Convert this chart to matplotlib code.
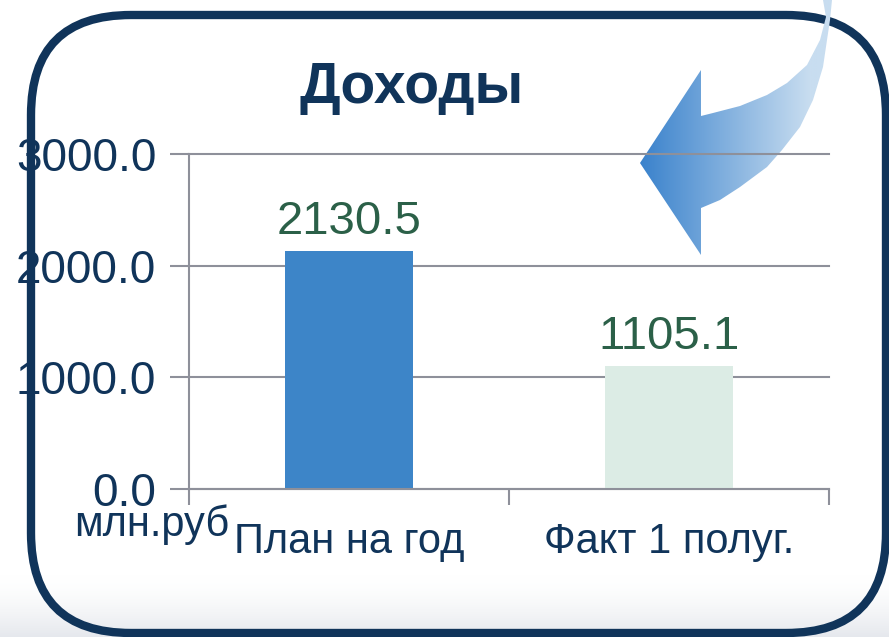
import numpy as np
import matplotlib
matplotlib.use("Agg")
import matplotlib.pyplot as plt
from matplotlib.patches import FancyBboxPatch, Polygon

# ---- data ----
categories = ["План на год", "Факт 1 полуг."]
values = [2130.5, 1105.1]
value_labels = ["2130.5", "1105.1"]
bar_colors = ["#3d85c8", "#dcece5"]
yticks = [0, 1000, 2000, 3000]
ytick_labels = ["0.0", "1000.0", "2000.0", "3000.0"]
title = "Доходы"
unit = "млн.руб"

NAVY = "#10345a"
GRID = "#8e909a"
VALC = "#2b6048"

plt.rcParams['font.family'] = ['Liberation Sans', 'DejaVu Sans']

W, H = 889, 637
fig = plt.figure(figsize=(W / 100, H / 100), dpi=100)
fig.patch.set_facecolor("white")

# ---- background decoration axes (pixel coords) ----
bg = fig.add_axes([0, 0, 1, 1], zorder=0)
bg.set_xlim(0, W)
bg.set_ylim(H, 0)
bg.axis("off")

# subtle grey gradient at the bottom
grad = np.linspace(0, 1, 100)[:, None] ** 1.6
col_top = np.array([1.0, 1.0, 1.0])
col_bot = np.array([0.90, 0.91, 0.93])
img = col_top[None, None, :] * (1 - grad[..., None]) + col_bot[None, None, :] * grad[..., None]
bg.imshow(img, extent=[0, W, H, 575], aspect="auto", zorder=0)

# frame
bg.add_patch(FancyBboxPatch((31, 15), 886 - 31, 633 - 15,
                            boxstyle="round,pad=0,rounding_size=100",
                            facecolor="none", edgecolor=NAVY, linewidth=6, zorder=1))

# curved gradient arrow
arrow_pts = [
    (640, 163), (701, 70), (701, 116),
    (713, 113), (740, 106), (767, 95), (787, 83), (807, 65), (820, 40), (826, 17), (823, 0),
    (832, 0), (830, 20), (827, 40), (823, 67), (813, 100), (800, 127), (782, 150),
    (767, 167), (740, 187), (720, 200), (701, 208),
    (701, 255),
]
poly = Polygon(arrow_pts, closed=True, facecolor="none", edgecolor="none", zorder=2)
bg.add_patch(poly)
gx = np.clip((np.linspace(640, 835, 200) - 640) / (810 - 640), 0, 1)
c0 = np.array([0x3a, 0x82, 0xcc]) / 255
c1 = np.array([0xc8, 0xdd, 0xf0]) / 255
gimg = (c0[None, :] * (1 - gx[:, None]) + c1[None, :] * gx[:, None])[None, :, :]
gi = bg.imshow(gimg, extent=[640, 835, 256, -1], aspect="auto", zorder=2)
gi.set_clip_path(poly)

# ---- chart axes ----
ax = fig.add_axes([189 / W, 148 / H, 640 / W, 335 / H], zorder=1)
ax.patch.set_alpha(0)
x = np.arange(len(categories))
bars = ax.bar(x, values, width=0.4, color=bar_colors, zorder=2)
for xi, v, lab in zip(x, values, value_labels):
    ax.annotate(lab, (xi, v), xytext=(0, 5), textcoords="offset points",
                ha="center", va="bottom", fontsize=34, color=VALC)

ax.set_xlim(-0.5, 1.5)
ax.set_ylim(0, 3000)
ax.set_yticks(yticks)
ax.set_yticklabels(ytick_labels)
ax.set_xticks(x)
ax.set_xticklabels(categories)
ax.set_xticks([-0.5, 0.5, 1.5], minor=True)

ax.tick_params(axis="y", length=13.5, width=1.5, color=GRID, pad=10,
               labelsize=33, labelcolor=NAVY)
ax.tick_params(axis="x", which="major", length=0, pad=24,
               labelsize=30, labelcolor=NAVY)
ax.tick_params(axis="x", which="minor", length=11.5, width=1.5, color=GRID)

for s in ["top", "right"]:
    ax.spines[s].set_visible(False)
for s in ["left", "bottom"]:
    ax.spines[s].set_color(GRID)
    ax.spines[s].set_linewidth(1.5)
ax.yaxis.grid(True, color=GRID, linewidth=1.5, zorder=1)
ax.set_axisbelow(True)
for gl in ax.get_ygridlines():
    gl.set_clip_on(False)

# ---- texts ----
fig.text(412 / W, 1 - 103 / H, title, ha="center", va="baseline",
         fontsize=41, fontweight="bold", color=NAVY)
fig.text(229 / W, 1 - 536 / H, unit, ha="right", va="baseline",
         fontsize=30, color=NAVY)

fig.savefig("out.png", dpi=100)
